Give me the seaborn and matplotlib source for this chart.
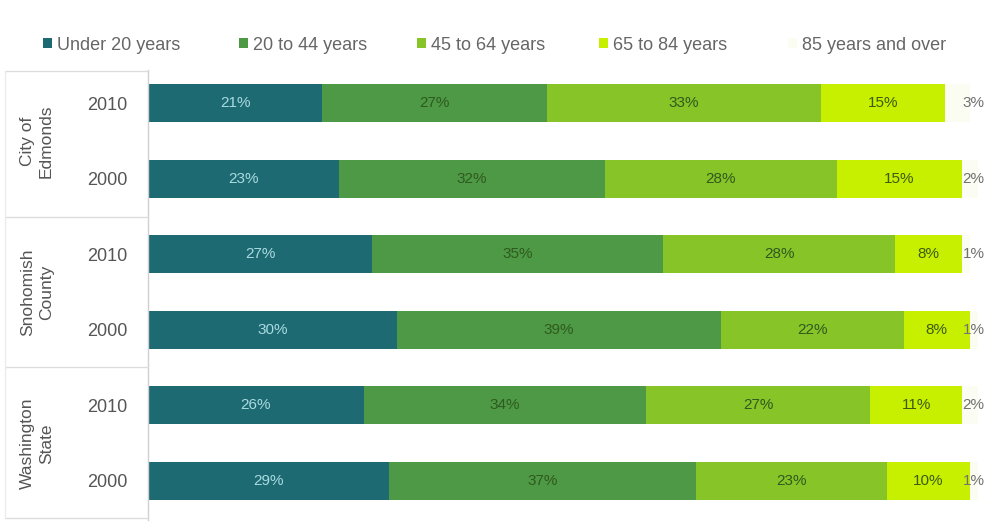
import matplotlib
matplotlib.use("Agg")
import matplotlib.pyplot as plt
import numpy as np
import pandas as pd
import seaborn as sns
from matplotlib.lines import Line2D
from matplotlib.patches import Patch

# Population share by age group, by area and census year
areas = ["City of\nEdmonds", "Snohomish\nCounty", "Washington\nState"]
years = ["2010", "2000"]
rows = ["Edmonds 2010", "Edmonds 2000", "Snohomish 2010", "Snohomish 2000",
        "Washington 2010", "Washington 2000"]
year_labels = ["2010", "2000", "2010", "2000", "2010", "2000"]
age_groups = ["Under 20 years", "20 to 44 years", "45 to 64 years",
              "65 to 84 years", "85 years and over"]

under_20 = [21, 23, 27, 30, 26, 29]
age_20_44 = [27, 32, 35, 39, 34, 37]
age_45_64 = [33, 28, 28, 22, 27, 23]
age_65_84 = [15, 15, 8, 8, 11, 10]
age_85_over = [3, 2, 1, 1, 2, 1]

series = [under_20, age_20_44, age_45_64, age_65_84, age_85_over]
colors = ["#1e6a72", "#4e9945", "#86c427", "#c6f000", "#fbfdf3"]
label_colors = ["#a9dbe0", "#2f5a1f", "#2f5a1f", "#3d5a10", "#707070"]

sns.set_theme(style="white")
plt.rcParams["font.family"] = ["Liberation Sans", "DejaVu Sans"]

fig = plt.figure(figsize=(9.9, 5.27), dpi=100)
ax = fig.add_axes([148 / 990, 7 / 527, 842 / 990, 450 / 527])

vals = np.array(series, dtype=float)
cum = vals.cumsum(axis=0)

# Stack by overdrawing cumulative totals from the outermost segment inward
for i in reversed(range(len(series))):
    df = pd.DataFrame({"row": rows, "total": cum[i]})
    sns.barplot(data=df, x="total", y="row", orient="h", color=colors[i],
                saturation=1, width=0.5, linewidth=0, ax=ax, order=rows)

# Segment value labels; the smallest group sits just past the bar end
for i, s in enumerate(series):
    for j, v in enumerate(s):
        if i == len(series) - 1:
            ax.text(98.1, j, f"{v}%", ha="left", va="center",
                    fontsize=11, color=label_colors[i])
        else:
            ax.text(cum[i][j] - v / 2, j, f"{v}%", ha="center", va="center",
                    fontsize=11, color=label_colors[i])

ax.set_xlim(0, 101.4)
ax.set_ylim(5.52, -0.44)
ax.set_xlabel("")
ax.set_ylabel("")
ax.set_xticks([])
ax.set_yticks(range(len(rows)))
ax.set_yticklabels(year_labels, fontsize=13, color="#555555")
ax.tick_params(axis="y", length=0, pad=15)
for side in ["top", "right", "bottom"]:
    ax.spines[side].set_visible(False)
ax.spines["left"].set_color("#d0d0d0")
ax.spines["left"].set_linewidth(1)

# Area group labels and separators at left
def fy(px):
    return 1 - px / 527

for k, name in enumerate(areas):
    yc = (103 + 180) / 2 + 151 * k
    fig.text(37 / 990, fy(yc), name, rotation=90, ha="center", va="center",
             fontsize=12.5, color="#555555", multialignment="center",
             linespacing=1.3)

for ypx in [71, 217, 367, 518]:
    fig.add_artist(Line2D([5 / 990, 148 / 990], [fy(ypx), fy(ypx)],
                          color="#dcdcdc", lw=1))
fig.add_artist(Line2D([5 / 990, 5 / 990], [fy(71), fy(518)],
                      color="#ececec", lw=1))

# Legend entries placed one by one along the top
legend_x = [43, 239, 417, 599, 788]
for c, name, xpx in zip(colors, age_groups, legend_x):
    fig.legend([Patch(facecolor=c, edgecolor="none")], [name],
               loc="center left", bbox_to_anchor=(xpx / 990, fy(45)),
               frameon=False, fontsize=13, handlelength=0.5,
               handleheight=0.5, handletextpad=0.3, borderpad=0,
               borderaxespad=0, labelcolor="#666666")

fig.savefig("out.png", dpi=100, facecolor="white")
